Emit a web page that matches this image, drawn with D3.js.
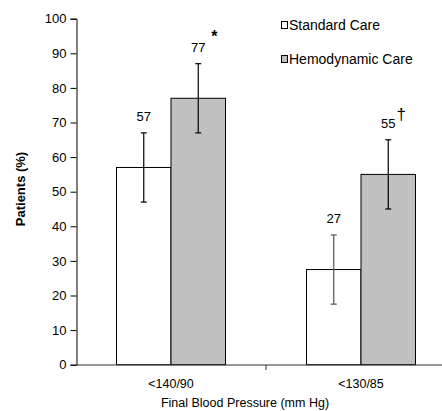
<!DOCTYPE html>
<html><head><meta charset="utf-8">
<script src="https://cdn.jsdelivr.net/npm/d3@7"></script>
<style>body{margin:0;background:#fff}svg{display:block;font-family:"Liberation Sans",Arial,sans-serif}</style>
</head><body><svg id="c" width="442" height="411"></svg>
<script>
const categories = ["<140/90", "<130/85"];
const seriesNames = ["Standard Care", "Hemodynamic Care"];
const standardCare = [57, 27.5];
const hemodynamicCare = [77, 55];
const errStandard = [10, 10];
const errHemodynamic = [10, 10];
const valueLabels = [["57", "77"], ["27", "55"]];
const markers = [["", "*"], ["", "†"]];
const yTicks = [0, 10, 20, 30, 40, 50, 60, 70, 80, 90, 100];

const svg = d3.select("#c");
const x = d3.scaleBand().domain(categories).range([76, 456]).paddingInner(0).paddingOuter(0);
const y = d3.scaleLinear().domain([0, 100]).range([364.7, 18.7]);
const barW = 54.5;
const fills = ["#ffffff", "#c0c0c0"];
const errColors = [["#000", "#000"], ["#555", "#000"]];

const data = [];
categories.forEach((c, i) => {
  [standardCare[i], hemodynamicCare[i]].forEach((v, s) => {
    data.push({c, i, s, v, e: s === 0 ? errStandard[i] : errHemodynamic[i]});
  });
});

// bars
svg.selectAll("rect.bar").data(data).enter().append("rect")
  .attr("class", "bar")
  .attr("x", d => x(d.c) + x.bandwidth() / 2 - barW + d.s * barW)
  .attr("y", d => y(d.v))
  .attr("width", barW)
  .attr("height", d => y(0) - y(d.v))
  .attr("fill", d => fills[d.s])
  .attr("stroke", "#000").attr("stroke-width", 1);

// error bars
const cx = d => x(d.c) + x.bandwidth() / 2 - barW / 2 + d.s * barW;
const eg = svg.selectAll("g.err").data(data).enter().append("g")
  .attr("stroke", d => errColors[d.i][d.s]).attr("stroke-width", 1.2);
eg.append("line").attr("x1", cx).attr("x2", cx).attr("y1", d => y(d.v + d.e)).attr("y2", d => y(d.v - d.e));
eg.append("line").attr("x1", d => cx(d) - 3).attr("x2", d => cx(d) + 3).attr("y1", d => y(d.v + d.e)).attr("y2", d => y(d.v + d.e));
eg.append("line").attr("x1", d => cx(d) - 3).attr("x2", d => cx(d) + 3).attr("y1", d => y(d.v - d.e)).attr("y2", d => y(d.v - d.e));

// value labels
svg.selectAll("text.val").data(data).enter().append("text")
  .attr("x", cx).attr("y", d => y(d.v + d.e) - 12)
  .attr("text-anchor", "middle").attr("font-size", 13).attr("fill", "#000")
  .text(d => valueLabels[d.i][d.s]);
// markers
svg.selectAll("text.mk").data(data.filter(d => markers[d.i][d.s])).enter().append("text")
  .attr("x", d => cx(d) + (d.i === 0 ? 16 : 13)).attr("y", d => y(d.v + d.e) - (d.i === 0 ? 22 : 20))
  .attr("text-anchor", "middle")
  .attr("font-size", d => d.i === 0 ? 16 : 17)
  .attr("font-weight", d => d.i === 0 ? "bold" : "normal")
  .text(d => markers[d.i][d.s]);

// y axis
const yAxis = d3.axisLeft(y).tickValues(yTicks).tickSize(6).tickPadding(4);
const ya = svg.append("g").attr("transform", "translate(76.5,0)").call(yAxis);
ya.select(".domain").attr("stroke", "#000");
ya.selectAll(".tick line").attr("stroke", "#000");
ya.selectAll(".tick text").attr("font-size", 13).attr("fill", "#000").attr("font-family", "Liberation Sans, Arial, sans-serif");

// x axis
const xAxis = d3.axisBottom(x).tickSize(0).tickPadding(14);
const xa = svg.append("g").attr("transform", "translate(0,365)").call(xAxis);
xa.select(".domain").attr("stroke", "#333").attr("d", "M76,0H442");
xa.selectAll(".tick text").attr("font-size", 12.5).attr("fill", "#000").attr("font-family", "Liberation Sans, Arial, sans-serif");
xa.append("line").attr("x1", 266).attr("x2", 266).attr("y1", 0).attr("y2", 5).attr("stroke", "#333");

// axis titles
svg.append("text").attr("transform", "translate(25,189) rotate(-90)")
  .attr("text-anchor", "middle").attr("font-size", 13).attr("font-weight", "bold").text("Patients (%)");
svg.append("text").attr("x", 245).attr("y", 407)
  .attr("text-anchor", "middle").attr("font-size", 12.5).text("Final Blood Pressure (mm Hg)");

// legend
const lg = svg.selectAll("g.lg").data(seriesNames).enter().append("g")
  .attr("transform", (d, i) => `translate(281.5,${25 + i * 34})`);
lg.append("rect").attr("x", 0).attr("y", -3.5).attr("width", 6).attr("height", 7)
  .attr("fill", (d, i) => fills[i]).attr("stroke", "#000").attr("stroke-width", 1);
lg.append("text").attr("x", 7.5).attr("y", 5).attr("font-size", 14).text(d => d);
</script></body></html>
